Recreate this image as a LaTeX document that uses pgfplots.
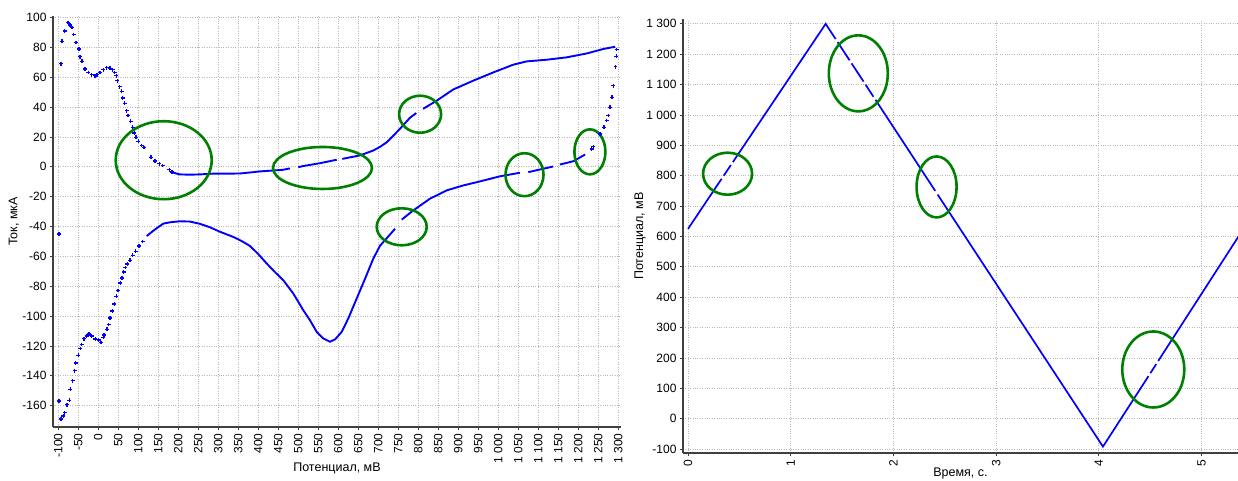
\documentclass[border=0pt]{standalone}
\usepackage{fontspec}
\setmainfont{Liberation Sans}
\usepackage{pgfplots}
\pgfplotsset{compat=1.18}

\definecolor{plotblue}{RGB}{0,0,255}
\definecolor{ellgreen}{RGB}{0,128,0}
\definecolor{gridgray}{RGB}{185,185,185}

\pgfplotsset{
  common/.style={
    scale only axis,
    axis x line*=bottom, axis y line*=left,
    axis line style={black!75, line width=1.1pt},
    grid=major,
    major grid style={gridgray, dotted, line width=0.8pt},
    tick align=outside,
    major tick length=3pt,
    tick style={black!75, line width=0.8pt},
    ticklabel style={font=\fontsize{12}{14}\selectfont},
    label style={font=\fontsize{12.5}{14}\selectfont},
    xticklabel style={rotate=90, anchor=east},
    /pgf/number format/assume math mode=true,
    /pgf/number format/1000 sep={\ },
    scaled ticks=false,
  },
  dense/.style={plotblue, line width=1.9pt, no marks, forget plot},
  sparse/.style={plotblue, only marks, mark=+, mark size=1.9pt, mark options={line width=1.4pt}, forget plot},
}
\tikzset{ell/.style={ellgreen, line width=2.6pt}}

\begin{document}
\begin{tikzpicture}
\path[use as bounding box] (0,0) rectangle (1238pt,481pt);

% ---------------- left: cyclic voltammogram ----------------
\begin{axis}[common, at={(53pt,54pt)}, anchor=south west,
  width=568pt, height=411pt,
  xmin=-113.25, xmax=1306.75, ymin=-174.3, ymax=101,
  xtick={-100,-50,...,1300}, ytick={-160,-140,...,100},
  xlabel={Потенциал, мВ}, ylabel={Ток, мкА},
  xlabel style={at={(axis description cs:0.5,0)}, anchor=center, yshift=-41pt},
  ylabel style={at={(axis description cs:0,0.5)}, anchor=center, yshift=39pt}]

\addplot[sparse] coordinates {
(-98,-157) (-93,-169) (-87.5,-167) (-84,-164.7) (-78,-159.4) (-72.5,-156.4) (-70,-149) (-64,-143.3) (-59,-136.6) (-56.5,-131.3) (-50,-126.3) (-45,-121.7) (-41.5,-119) (-36,-115.2) (-29,-113.4) (-23,-112) (-16.5,-113.4) (-7.5,-115.4) (1,-116.1) (7,-117.7) (12.5,-114.3) (14.5,-112.8) (22,-108.8) (26,-105.6) (29,-101.4) (35,-96.7) (40,-91.8) (45,-86.7) (49,-82.9) (55,-77.8) (59,-74.5) (63.5,-70.5) (67.5,-67.5) (72.5,-65.1) (79,-62.6) (86,-59.3) (93.5,-56.6) (102,-53) (111,-50)
(-98,-45)
(-93,69) (-91,84) (-84,91) (-76,96.7) (-71,95) (-66,93.3) (-61.5,88.6) (-56,83.3) (-48,78.9) (-46,73.7) (-41,70.6) (-33,65.5) (-25,63.2) (-16.5,61.7) (-8,61) (-3.5,61.7) (4,63.2) (12.5,65) (21,66.4) (29,66) (36,65) (41,63.2) (45,61) (47.5,57.7) (53.5,53.7) (58.5,50.5) (61,46.1) (66,42.5) (71,37.6) (74,34.3) (81,30.5) (86,26.5) (90,22.7) (94,19.8) (100,17.1) (108.5,14.2) (114,12.9) (132,6.4) (142,4) (152.5,2) (161,0.9) (177.5,-2) (184,-3.6)
(1233.5,12) (1237.5,13.5) (1254,22) (1264,26.5) (1271,31) (1275,34.3) (1279,39.8) (1284,46.5) (1287.5,54.3) (1293,67) (1295,74) (1296,78.5)
};

% anodic branch (dense parts)
\addplot[dense] coordinates {(184,-3.6) (202.5,-5.1) (229,-5.3) (254,-5.1) (287.5,-4.6) (320,-4.6) (354,-4.5) (387.5,-3.6) (404,-3.1) (437.5,-2.5) (462.5,-2) (479,-1.1)};
\addplot[dense] coordinates {(500,-0.3) (512.5,0.5) (554,2.4) (596,4.7)};
\addplot[dense] coordinates {(610,5.3) (654,7.6) (687.5,10.9) (704,13.3) (721,16.4) (740,21.5) (754,25.4) (779,32.8) (795,36)};
\addplot[dense] coordinates {(812,38.8) (846,44.3) (887.5,51.8) (937.5,57.7) (987.5,63.2) (1037.5,68.4) (1071,70.6) (1121,71.7) (1171,73.3) (1221,75.9) (1262.5,78.9) (1292,80.4)};
% cathodic branch (dense parts)
\addplot[dense] coordinates {(1154,1.5) (1187.5,3.7) (1217,8.2)};
\addplot[dense] coordinates {(1075,-3.6) (1112.5,-1.3) (1137.5,0.2)};
\addplot[dense] coordinates {(758.5,-35.4) (787.5,-29.2) (829,-21.4) (871,-15.8) (912.5,-12.5) (954,-9.8) (1004,-6.4) (1054,-4)};
\addplot[dense] coordinates {(121,-46.4) (133.5,-43.7) (150,-40.4) (162.5,-38.1) (179,-37.2) (204,-36.5) (229,-36.7) (254,-38.2) (279,-40.5) (304,-43.5) (337.5,-47) (360,-50) (379,-53) (400,-58.5) (421,-64.8) (441.5,-70.5) (462.5,-76) (487.5,-84.9) (512.5,-96.1) (529,-102.7) (546,-110.6) (562.5,-115) (579,-117.2) (592,-115.6) (608.5,-110.6) (625,-101.6) (646,-88.2) (667,-74.9) (687.5,-61.5) (704,-53) (742,-41.5)};

\draw[ell] (axis cs:163.5,4.4) ellipse [x radius=48pt, y radius=39pt];
\draw[ell] (axis cs:560.5,-0.8) ellipse [x radius=49.5pt, y radius=21pt];
\draw[ell] (axis cs:804.5,35.2) ellipse [x radius=21pt, y radius=18.5pt];
\draw[ell] (axis cs:758.5,-40.2) ellipse [x radius=25pt, y radius=18.5pt];
\draw[ell] (axis cs:1065.5,-5.3) ellipse [x radius=19pt, y radius=21.5pt];
\draw[ell] (axis cs:1229,10) ellipse [x radius=15.5pt, y radius=22.5pt];
\end{axis}

% ---------------- right: potential vs time ----------------
\begin{axis}[common, at={(683pt,28pt)}, anchor=south west,
  width=555pt, height=434pt,
  xmin=-0.049, xmax=5.355, ymin=-113, ymax=1316,
  xtick={0,1,2,3,4,5}, ytick={-100,0,100,200,300,400,500,600,700,800,900,1000,1100,1200,1300},
  xlabel={Время, с.}, ylabel={Потенциал, мВ},
  xlabel style={at={(axis description cs:0.5,0)}, anchor=center, yshift=-20pt},
  ylabel style={at={(axis description cs:0,0.5)}, anchor=center, yshift=43pt}]
\addplot[dense, line width=1.7pt] coordinates {(0,625) (0.327,790)};
\addplot[dense, line width=1.7pt] coordinates {(0.347,800) (0.417,835)};
\addplot[dense, line width=1.7pt] coordinates {(0.437,845) (1.34,1300) (1.437,1250)};
\addplot[dense, line width=1.7pt] coordinates {(1.456,1240) (1.573,1180)};
\addplot[dense, line width=1.7pt] coordinates {(1.592,1170) (1.709,1110)};
\addplot[dense, line width=1.7pt] coordinates {(1.728,1100) (1.805,1060)};
\addplot[dense, line width=1.7pt] coordinates {(1.825,1050) (2.407,750)};
\addplot[dense, line width=1.7pt] coordinates {(2.430,738) (4.04,-92) (4.483,140)};
\addplot[dense, line width=1.7pt] coordinates {(4.502,150) (4.559,180)};
\addplot[dense, line width=1.7pt] coordinates {(4.578,190) (5.36,600)};

\draw[ell] (axis cs:0.385,806.6) ellipse [x radius=24.5pt, y radius=21pt];
\draw[ell] (axis cs:1.658,1137) ellipse [x radius=29.5pt, y radius=38pt];
\draw[ell] (axis cs:2.42,763) ellipse [x radius=20pt, y radius=30.5pt];
\draw[ell] (axis cs:4.53,162) ellipse [x radius=31pt, y radius=38pt];
\end{axis}
\end{tikzpicture}
\end{document}
